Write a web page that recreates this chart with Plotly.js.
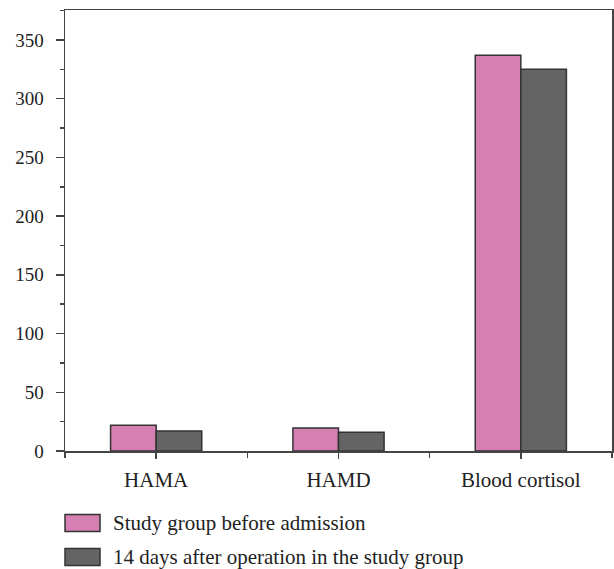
<!DOCTYPE html>
<html>
<head>
<meta charset="utf-8">
<script src="https://cdn.plot.ly/plotly-3.0.1.min.js"></script>
<style>html,body{margin:0;padding:0;background:#fff;}#chart{width:614px;height:569px;}</style>
</head>
<body>
<div id="chart"></div>
<script>
const categories = ["HAMA", "HAMD", "Blood cortisol"];
const seriesNames = ["Study group before admission", "14 days after operation in the study group"];
const seriesColors = ["#D67FB2", "#646464"];
const beforeAdmission = [22, 19.5, 337];
const after14Days = [17, 16, 325];
const yTicks = [0, 50, 100, 150, 200, 250, 300, 350];

const fam = "Liberation Serif";
const font = {family: fam, size: 19, color: "#222"};
const xfont = {family: fam, size: 21, color: "#222"};

const traces = [
  {type: "bar", name: seriesNames[0], x: categories, y: beforeAdmission,
   marker: {color: seriesColors[0], line: {color: "#333", width: 1.5}}},
  {type: "bar", name: seriesNames[1], x: categories, y: after14Days,
   marker: {color: seriesColors[1], line: {color: "#333", width: 1.5}}},
  {type: "bar", x: categories, y: [0, 0, 0], xaxis: "x2", showlegend: false, hoverinfo: "skip",
   marker: {color: "rgba(0,0,0,0)"}}
];

// custom legend built from the series names/colours (plot area: top 10, height 441, width 547)
const shapes = [];
const annotations = [];
const legendRows = [523, 557];
seriesNames.forEach((name, i) => {
  const py = (451 - legendRows[i]) / 441;
  shapes.push({type: "rect", xref: "paper", yref: "paper", layer: "above",
    x0: 0, x1: 35 / 547, y0: py - 8.5 / 441, y1: py + 8.5 / 441,
    fillcolor: seriesColors[i], line: {color: "#333", width: 1.5}});
  annotations.push({xref: "paper", yref: "paper", x: 46 / 547, y: py, xanchor: "left", yanchor: "middle",
    text: name, showarrow: false, font: {family: fam, size: 21, color: "#222"}});
});

const layout = {
  width: 614, height: 569,
  margin: {l: 65, r: 2, t: 10, b: 118},
  paper_bgcolor: "#fff", plot_bgcolor: "#fff",
  font: font,
  barmode: "group", bargap: 0.5, bargroupgap: 0,
  showlegend: false,
  shapes: shapes,
  annotations: annotations,
  xaxis: {type: "category", categoryarray: categories, range: [-0.5, 2.5],
          showline: true, linecolor: "#444", linewidth: 1.5, mirror: true,
          ticks: "outside", ticklen: 6, tickcolor: "#444", tickwidth: 1.5, ticklabelstandoff: 3,
          showgrid: false, zeroline: false, tickfont: xfont},
  xaxis2: {type: "category", categoryarray: categories, range: [-0.5, 2.5], overlaying: "x",
           tickson: "boundaries", ticks: "outside", ticklen: 6, tickcolor: "#444", tickwidth: 1.5,
           showticklabels: false, showgrid: false, showline: false, zeroline: false},
  yaxis: {range: [0, 375.5], tickvals: yTicks, showline: true, linecolor: "#444", linewidth: 1.5, mirror: true,
          ticks: "outside", ticklen: 8, tickcolor: "#444", tickwidth: 1.5, ticklabelstandoff: 8,
          minor: {dtick: 25, tick0: 0, ticks: "outside", ticklen: 4, tickcolor: "#444", tickwidth: 1.5, showgrid: false},
          showgrid: false, zeroline: false, tickfont: font}
};

Plotly.newPlot("chart", traces, layout, {displayModeBar: false, staticPlot: true});
</script>
</body>
</html>
